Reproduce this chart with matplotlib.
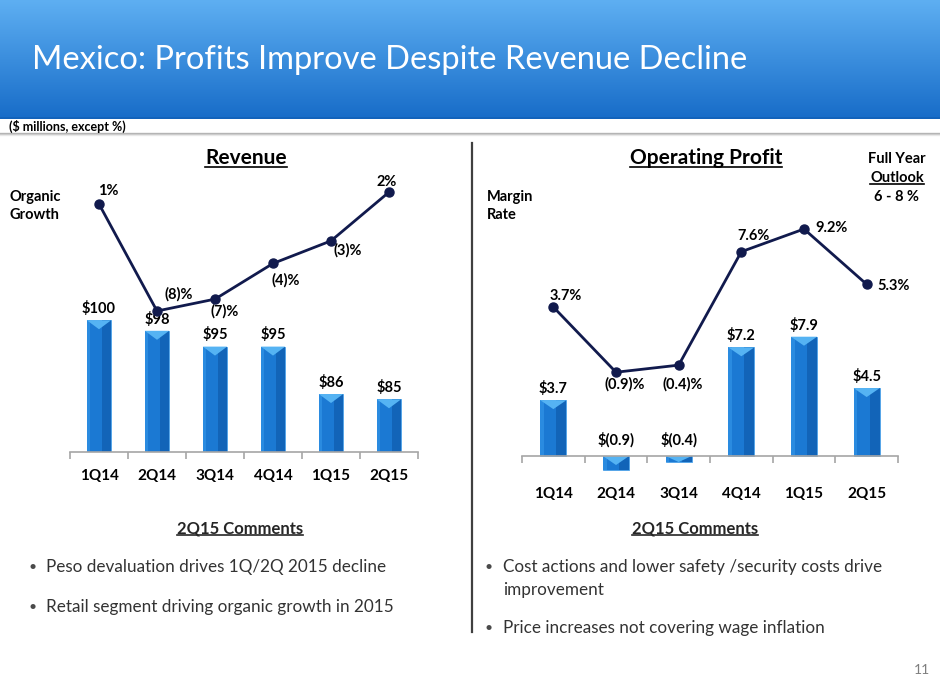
import matplotlib
matplotlib.use("Agg")
import matplotlib.pyplot as plt
import numpy as np
from matplotlib.patches import Polygon, Rectangle
from matplotlib.lines import Line2D

plt.rcParams['font.family'] = ['Lato', 'DejaVu Sans']

# ---------------- data ----------------
quarters = ["1Q14", "2Q14", "3Q14", "4Q14", "1Q15", "2Q15"]
revenue = [100, 98, 95, 95, 86, 85]
revenue_labels = ["$100", "$98", "$95", "$95", "$86", "$85"]
organic_growth = [1.0, -8.0, -7.0, -4.0, -2.1, 2.0]
growth_labels = ["1%", "(8)%", "(7)%", "(4)%", "(3)%", "2%"]
op_profit = [3.7, -0.9, -0.4, 7.2, 7.9, 4.5]
op_profit_labels = ["$3.7", "$(0.9)", "$(0.4)", "$7.2", "$7.9", "$4.5"]
margin_rate = [3.7, -0.9, -0.4, 7.6, 9.2, 5.3]
margin_labels = ["3.7%", "(0.9)%", "(0.4)%", "7.6%", "9.2%", "5.3%"]

left_comments = ["Peso devaluation drives 1Q/2Q 2015 decline",
                 "Retail segment driving organic growth in 2015"]
right_comments = ["Cost actions and lower safety /security costs drive",
                  "improvement",
                  "Price increases not covering wage inflation"]

W, H = 940, 686
fig = plt.figure(figsize=(W / 100, H / 100), dpi=100)
fig.patch.set_facecolor("white")


def fx(x):
    return x / W


def fy(y):
    return 1 - y / H


# ---------------- title bar ----------------
bar_ax = fig.add_axes([0, fy(119), 1, 119 / H])
top = np.array([0x5E, 0xAF, 0xF2]) / 255
bot = np.array([0x17, 0x6C, 0xC8]) / 255
t = np.linspace(0, 1, 200)[:, None]
grad = (top[None, :] * (1 - t) + bot[None, :] * t)[:, None, :]
grad = np.repeat(grad, 2, axis=1)
bar_ax.imshow(grad, aspect="auto", extent=[0, 1, 0, 1], origin="upper")
bar_ax.axhline(0.01, color="#1262BA", lw=2)
bar_ax.set_axis_off()
fig.text(fx(32), fy(60), "Mexico: Profits Improve Despite Revenue Decline",
         color="white", fontsize=23.5, va="center", ha="left")

fig.text(fx(9), fy(126), "($ millions, except %)", fontsize=9,
         fontweight="bold", va="center", ha="left", color="black")
for i, a in enumerate([0.55, 0.3, 0.12]):
    fig.add_artist(Line2D([0, 1], [fy(133 + i), fy(133 + i)], color="#7f7f7f",
                          alpha=a, lw=1, transform=fig.transFigure))

# divider
fig.add_artist(Line2D([fx(472), fx(472)], [fy(143), fy(632)], color="#404040",
                      lw=1.6, transform=fig.transFigure))

LINE_COLOR = "#111a4d"
LBL = 10.5


def bevel_bars(ax, bars, px_per_unit, floor=None):
    depth = 9 / px_per_unit
    for b in bars:
        x0, w, h = b.get_x(), b.get_width(), b.get_height()
        ytop = max(h, 0)
        ybot = min(h, 0)
        if floor is not None:
            ybot = max(ybot, floor)
        ax.add_patch(Rectangle((x0 + 0.62 * w, ybot), 0.38 * w, ytop - ybot,
                               facecolor="#1264B8", edgecolor="none", zorder=3,
                               clip_on=False))
        ax.add_patch(Rectangle((x0, ybot), 0.14 * w, ytop - ybot,
                               facecolor="#2A8BE0", edgecolor="none", zorder=3,
                               clip_on=False))
        d = min(depth, (ytop - ybot))
        ax.add_patch(Polygon([[x0, ytop], [x0 + w, ytop], [x0 + w / 2, ytop - d]],
                             closed=True, facecolor="#55B3F3", edgecolor="none",
                             zorder=4, clip_on=False))


def setup_axis(ax, pad):
    ax.set_xlim(-0.5, 5.5)
    for s in ["top", "right", "left"]:
        ax.spines[s].set_visible(False)
    ax.spines["bottom"].set_color("#a6a6a6")
    ax.spines["bottom"].set_linewidth(1.2)
    ax.spines["bottom"].set_zorder(5)
    ax.set_yticks([])
    ax.set_xticks(range(6))
    ax.set_xticklabels(quarters, fontsize=11, fontweight="bold")
    ax.tick_params(axis="x", which="major", length=0, pad=pad)
    ax.set_xticks(np.arange(-0.5, 6, 1), minor=True)
    ax.tick_params(axis="x", which="minor", length=5, color="#a6a6a6", width=1.2)
    ax.patch.set_alpha(0)


# ---------------- left chart (Revenue) ----------------
axL = fig.add_axes([fx(70), fy(452), 348 / W, 272 / H])
ppuL = 5.27
axL.set_ylim(75, 75 + 272 / ppuL)
barsL = axL.bar(range(6), revenue, width=0.42, color="#1B79D3",
                edgecolor="#4FA3E8", linewidth=0.6, zorder=2)
bevel_bars(axL, barsL, ppuL, floor=axL.get_ylim()[0])
setup_axis(axL, 12)
for i, (v, lab) in enumerate(zip(revenue, revenue_labels)):
    axL.annotate(lab, (i, v), xytext=(0, 3), textcoords="offset points",
                 ha="center", va="bottom", fontsize=LBL, fontweight="bold", zorder=5)

axL2 = axL.twinx()
axL2.set_position(axL.get_position())
axL2.set_ylim(1 - 248 / 11.89, 1 + 24 / 11.89)
axL2.set_axis_off()
axL2.plot(range(6), organic_growth, color=LINE_COLOR, lw=2, marker="o", ms=6.5,
          zorder=6, clip_on=False)
offL = [(7, 9.5), (16, 12), (7, -9), (9, -12), (12, -6.5), (-1.5, 7)]
for i, (v, lab) in enumerate(zip(organic_growth, growth_labels)):
    axL2.annotate(lab, (i, v), xytext=offL[i], textcoords="offset points",
                  ha="center", va="center", fontsize=LBL, fontweight="bold")

# ---------------- right chart (Operating Profit) ----------------
axR = fig.add_axes([fx(522), fy(456), 376 / W, 276 / H])
ppuR = 15.1
axR.set_ylim(0, 276 / ppuR)
barsR = axR.bar(range(6), op_profit, width=0.42, color="#1B79D3",
                edgecolor="#4FA3E8", linewidth=0.6, zorder=2, clip_on=False)
bevel_bars(axR, barsR, ppuR)
setup_axis(axR, 22)
for i, (v, lab) in enumerate(zip(op_profit, op_profit_labels)):
    base = max(v, 0)
    axR.annotate(lab, (i, base), xytext=(0, 3 if v > 0 else 6),
                 textcoords="offset points", ha="center", va="bottom",
                 fontsize=LBL, fontweight="bold", zorder=5)

axR2 = axR.twinx()
axR2.set_position(axR.get_position())
axR2.set_ylim(3.7 - 149 / 14.18, 3.7 + 127 / 14.18)
axR2.set_axis_off()
axR2.plot(range(6), margin_rate, color=LINE_COLOR, lw=2, marker="o", ms=6.5,
          zorder=6, clip_on=False)
offR = [(9, 8, "center"), (6, -9, "center"), (3, -14, "center"),
        (9, 11, "center"), (8, 1, "left"), (8, -1, "left")]
for i, (v, lab) in enumerate(zip(margin_rate, margin_labels)):
    dx, dy, ha = offR[i]
    axR2.annotate(lab, (i, v), xytext=(dx, dy), textcoords="offset points",
                  ha=ha, va="center", fontsize=LBL, fontweight="bold")

# ---------------- headings & side labels ----------------
underlined = []
underlined.append(fig.text(fx(246), fy(158), "Revenue", fontsize=15,
                           fontweight="bold", ha="center", va="center"))
underlined.append(fig.text(fx(706), fy(158), "Operating Profit", fontsize=15,
                           fontweight="bold", ha="center", va="center"))
fig.text(fx(10), fy(206), "Organic\nGrowth", fontsize=10.5, fontweight="bold",
         ha="left", va="center", linespacing=1.4)
fig.text(fx(487), fy(206), "Margin\nRate", fontsize=10.5, fontweight="bold",
         ha="left", va="center", linespacing=1.4)
fig.text(fx(897), fy(159), "Full Year", fontsize=10.5, fontweight="bold",
         ha="center", va="center")
underlined.append(fig.text(fx(897), fy(178), "Outlook", fontsize=10.5,
                           fontweight="bold", ha="center", va="center"))
fig.text(fx(897), fy(197), "6 - 8 %", fontsize=10.5, fontweight="bold",
         ha="center", va="center")

# ---------------- comments ----------------
underlined.append(fig.text(fx(240), fy(528), "2Q15 Comments", fontsize=12,
                           fontweight="bold", ha="center", va="center",
                           color="#262626"))
underlined.append(fig.text(fx(695), fy(528), "2Q15 Comments", fontsize=12,
                           fontweight="bold", ha="center", va="center",
                           color="#262626"))

TXT = "#333333"
CFS = 12.3
for yy, s in zip([567, 607], left_comments):
    fig.text(fx(29), fy(yy), "•", fontsize=10, color="#4a4a4a", ha="left", va="center")
    fig.text(fx(46), fy(yy), s, fontsize=CFS, color=TXT, ha="left", va="center")
for yy in [567, 628]:
    fig.text(fx(485), fy(yy), "•", fontsize=10, color="#4a4a4a", ha="left", va="center")
for yy, s in zip([567, 590, 628], right_comments):
    fig.text(fx(503), fy(yy), s, fontsize=CFS, color=TXT, ha="left", va="center")

fig.text(fx(930), fy(670), "11", fontsize=10, color="#7f7f7f", ha="right", va="center")

# underline the headings
fig.canvas.draw()
r = fig.canvas.get_renderer()
for txt in underlined:
    bb = txt.get_window_extent(renderer=r)
    y = bb.y0 + 1.5
    fig.add_artist(Line2D([bb.x0 / W, bb.x1 / W], [y / H, y / H],
                          color=txt.get_color(), lw=1.2, transform=fig.transFigure))

fig.savefig("out.png", dpi=100, facecolor="white")
